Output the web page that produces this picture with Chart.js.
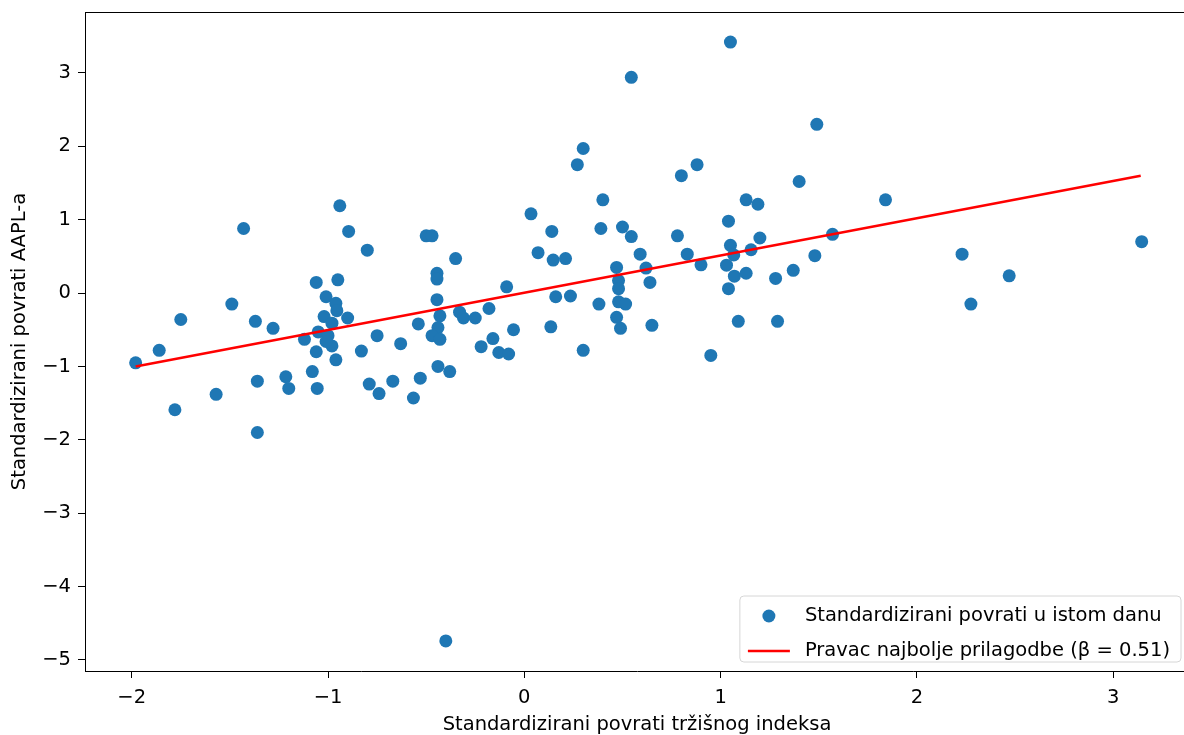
<!DOCTYPE html>
<html>
<head>
<meta charset="utf-8">
<script src="https://cdn.jsdelivr.net/npm/chart.js@4"></script>
<style>
  html, body { margin: 0; padding: 0; background: #fff; overflow: hidden; }
  #wrap { width: 1184px; height: 735px; overflow: hidden; position: relative; }
  canvas { display: block; }
</style>
</head>
<body>
<div id="wrap"><canvas id="c" width="1200" height="735"></canvas></div>
<script>
// ---- data ----
const marketReturns = [
  -1.98, -1.86, -1.75, -1.78, -1.57, -1.49, -1.43, -1.37, -1.36, -1.36,
  -1.28, -1.215, -1.20, -1.12, -1.08, -1.055, -1.06, -0.95, -1.01, -0.96,
  -0.955, -1.02, -0.98, -0.90, -1.05, -1.00, -0.98, -1.06, -0.96, -1.01,
  -0.94, -0.895, -0.80, -0.75, -0.83, -0.79, -0.74,
  -0.67, -0.63, -0.565, -0.54, -0.53, -0.50, -0.47, -0.445, -0.445, -0.445,
  -0.43, -0.44, -0.47, -0.43, -0.44, -0.38, -0.35, -0.33, -0.31, -0.25,
  -0.22, -0.18, -0.16, -0.13, -0.09, -0.08, -0.055, 0.034, 0.07, 0.135,
  0.14, 0.147, 0.16, 0.21, 0.235, 0.30, 0.38, 0.39, 0.40, 0.47,
  0.48, 0.48, 0.48, 0.516, 0.47, 0.49, 0.50, 0.545, 0.59, 0.62,
  0.64, 0.65, -0.40,
  0.27, 0.30, 0.545, 1.05, 1.49, 0.80, 0.88, 1.40,
  1.13, 1.19, 1.84, 1.04, 0.78, 1.05, 1.20, 1.155, 1.57, 1.067,
  0.83, 0.90, 1.03, 1.48, 1.07, 1.13, 1.04, 1.28, 1.37, 1.09,
  1.29, 0.95,
  2.23, 2.47, 2.275, 3.145
];
const appleReturns = [
  -0.95, -0.78, -0.36, -1.59, -1.38, -0.15, 0.88, -0.385, -1.20, -1.90,
  -0.48, -1.14, -1.30, -0.63, -1.07, -1.30, 0.145, 0.18, -0.05, -0.14,
  -0.24, -0.32, -0.41, -0.34, -0.53, -0.58, -0.72, -0.80, -0.91, -0.66,
  1.19, 0.84, 0.585, -0.58, -0.79, -1.24, -1.37,
  -1.20, -0.69, -1.43, -0.42, -1.16, 0.78, 0.78, 0.27, 0.19, -0.09,
  -0.31, -0.47, -0.58, -0.63, -1.00, -1.07, 0.47, -0.26, -0.34, -0.34,
  -0.73, -0.21, -0.62, -0.81, 0.085, -0.83, -0.50, 1.08, 0.55, -0.46,
  0.84, 0.45, -0.05, 0.47, -0.04, -0.78, -0.15, 0.88, 1.27, 0.35,
  0.17, 0.06, -0.12, -0.15, -0.33, -0.48, 0.90, 0.77, 0.53, 0.34,
  0.145, -0.44, -4.74,
  1.75, 1.97, 2.94, 3.42, 2.30, 1.60, 1.75, 1.52,
  1.27, 1.21, 1.27, 0.98, 0.78, 0.65, 0.75, 0.59, 0.80, 0.52,
  0.53, 0.385, 0.38, 0.51, 0.23, 0.27, 0.06, 0.20, 0.31, -0.385,
  -0.385, -0.85,
  0.53, 0.235, -0.15, 0.70
];
const fitLineX = [-1.98, 3.14];
const fitLineY = [-1.00, 1.60];
const xTicks = [-2, -1, 0, 1, 2, 3];
const yTicks = [-5, -4, -3, -2, -1, 0, 1, 2, 3];
const scatterLabel = 'Standardizirani povrati u istom danu';
const lineLabel = 'Pravac najbolje prilagodbe (\u03b2 = 0.51)';
const xTitle = 'Standardizirani povrati tržišnog indeksa';
const yTitle = 'Standardizirani povrati AAPL-a';

// ---- chart ----
const FONT = '"DejaVu Sans", sans-serif';
const FS = 19.5;
const fmt = v => (v < 0 ? '\u2212' + Math.abs(v) : String(v));

const scatterPoints = marketReturns.map((x, i) => ({ x: x, y: appleReturns[i] }));
const linePoints = fitLineX.map((x, i) => ({ x: x, y: fitLineY[i] }));

const framePlugin = {
  id: 'frame',
  afterDraw(chart) {
    const a = chart.chartArea, ctx = chart.ctx;
    ctx.save();
    ctx.strokeStyle = '#000';
    ctx.lineWidth = 1;
    ctx.beginPath();
    ctx.moveTo(a.left, a.top + 0.5);
    ctx.lineTo(a.right, a.top + 0.5);
    ctx.moveTo(a.right - 0.5, a.top);
    ctx.lineTo(a.right - 0.5, a.bottom);
    ctx.stroke();
    ctx.restore();
  }
};

const legendPlugin = {
  id: 'innerLegend',
  afterDraw(chart) {
    const a = chart.chartArea, ctx = chart.ctx;
    const ds = chart.data.datasets;
    ctx.save();
    ctx.font = FS + 'px ' + FONT;
    const textW = Math.max(...ds.map(d => ctx.measureText(d.label).width));
    const padL = 8, handleW = 42, gap = 15, padR = 11;
    const w = padL + handleW + gap + textW + padR;
    const h = 66;
    const right = a.right - 8, bottom = a.bottom - 9;
    const left = right - w, top = bottom - h;
    ctx.beginPath();
    const r = 4;
    ctx.moveTo(left + r, top);
    ctx.lineTo(right - r, top);
    ctx.quadraticCurveTo(right, top, right, top + r);
    ctx.lineTo(right, bottom - r);
    ctx.quadraticCurveTo(right, bottom, right - r, bottom);
    ctx.lineTo(left + r, bottom);
    ctx.quadraticCurveTo(left, bottom, left, bottom - r);
    ctx.lineTo(left, top + r);
    ctx.quadraticCurveTo(left, top, left + r, top);
    ctx.closePath();
    ctx.fillStyle = 'rgba(255,255,255,0.8)';
    ctx.fill();
    ctx.strokeStyle = '#d6d6d6';
    ctx.lineWidth = 1;
    ctx.stroke();
    const rows = [top + 20, top + 55];
    const hx = left + padL;
    ctx.fillStyle = ds[0].backgroundColor;
    ctx.beginPath();
    ctx.arc(hx + handleW / 2, rows[0], ds[0].pointRadius, 0, Math.PI * 2);
    ctx.fill();
    ctx.strokeStyle = ds[1].borderColor;
    ctx.lineWidth = ds[1].borderWidth;
    ctx.beginPath();
    ctx.moveTo(hx, rows[1]);
    ctx.lineTo(hx + handleW, rows[1]);
    ctx.stroke();
    ctx.fillStyle = '#000';
    ctx.textBaseline = 'middle';
    ctx.textAlign = 'left';
    ds.forEach((d, i) => ctx.fillText(d.label, hx + handleW + gap, rows[i]));
    ctx.restore();
  }
};

new Chart(document.getElementById('c'), {
  data: {
    datasets: [
      {
        type: 'scatter',
        label: scatterLabel,
        data: scatterPoints,
        backgroundColor: '#1f77b4',
        borderWidth: 0,
        pointRadius: 6.5,
        pointHoverRadius: 6.5,
        order: 2
      },
      {
        type: 'line',
        label: lineLabel,
        data: linePoints,
        borderColor: '#ff0000',
        borderWidth: 2.5,
        pointRadius: 0,
        fill: false,
        tension: 0,
        order: 1
      }
    ]
  },
  options: {
    responsive: false,
    animation: false,
    events: [],
    layout: { padding: { left: 0, top: 12, right: 11, bottom: 0 } },
    plugins: { legend: { display: false }, tooltip: { enabled: false } },
    scales: {
      x: {
        type: 'linear',
        min: -2.238,
        max: 3.386,
        afterBuildTicks: s => { s.ticks = xTicks.map(v => ({ value: v })); },
        afterFit: s => { s.height = 64; s.paddingLeft = 0; s.paddingRight = 0; },
        grid: { display: true, drawOnChartArea: false, drawTicks: true, tickLength: 7, color: '#000', lineWidth: 1 },
        border: { display: true, color: '#000', width: 1 },
        ticks: { color: '#000', font: { family: FONT, size: FS }, padding: 8, maxRotation: 0, callback: v => fmt(v) },
        title: { display: true, text: xTitle, color: '#000', font: { family: FONT, size: FS }, padding: { top: 0, bottom: -2 } }
      },
      y: {
        type: 'linear',
        min: -5.15,
        max: 3.83,
        afterBuildTicks: s => { s.ticks = yTicks.map(v => ({ value: v })); },
        afterFit: s => { s.width = 85; s.paddingTop = 0; s.paddingBottom = 0; },
        grid: { display: true, drawOnChartArea: false, drawTicks: true, tickLength: 7, color: '#000', lineWidth: 1 },
        border: { display: true, color: '#000', width: 1 },
        ticks: { color: '#000', font: { family: FONT, size: FS }, padding: 7, callback: v => fmt(v) },
        title: { display: true, text: yTitle, color: '#000', font: { family: FONT, size: FS }, padding: { top: 8, bottom: 0 } }
      }
    }
  },
  plugins: [framePlugin, legendPlugin]
});
</script>
</body>
</html>
